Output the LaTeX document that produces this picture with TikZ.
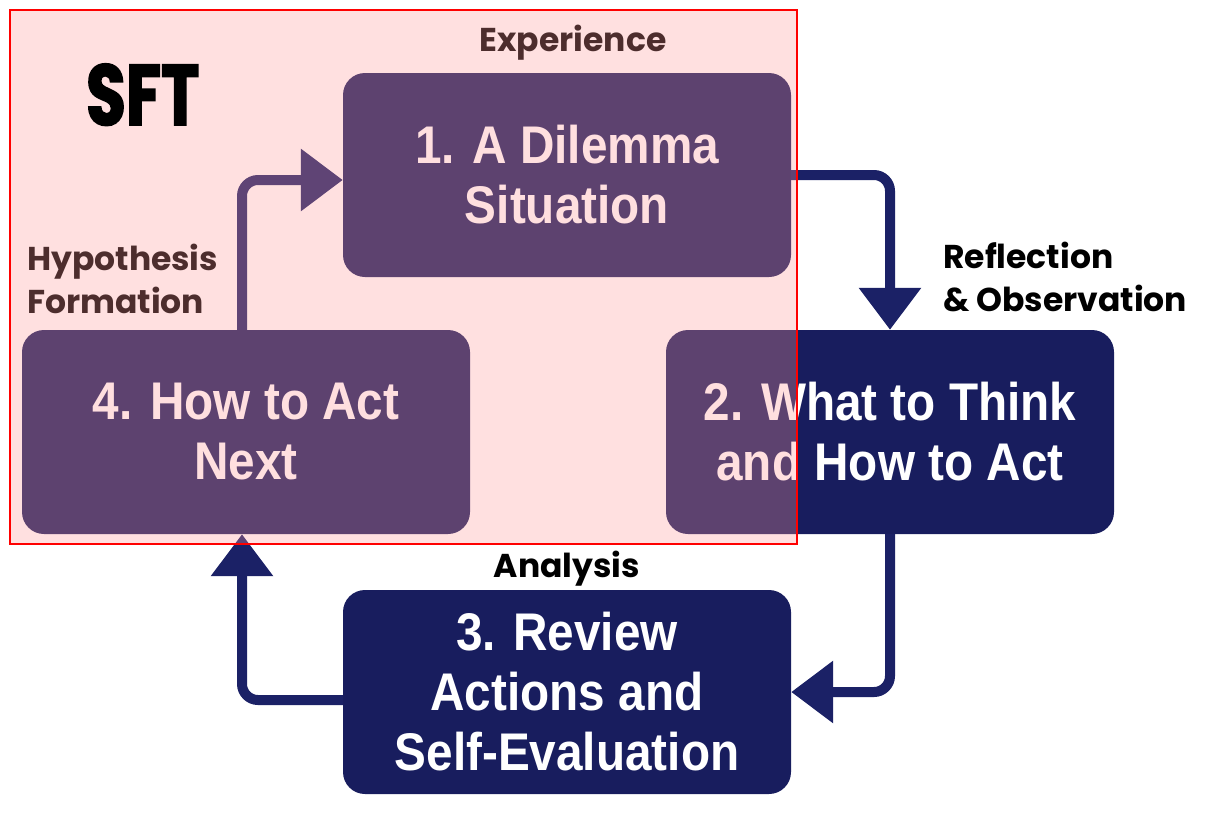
\documentclass[tikz,border=0pt]{standalone}
\usepackage{fontspec}
\setmainfont{Poppins}
\newfontfamily\stagefont[FakeStretch=0.9]{Liberation Sans}
\newfontfamily\sftfont[FakeStretch=0.75,FakeBold=2]{Poppins}
\usetikzlibrary{arrows.meta}

\definecolor{navy}{RGB}{24,29,94}
\definecolor{arrownavy}{RGB}{27,33,102}
\definecolor{veil}{RGB}{255,152,152}

\tikzset{
  stage/.style={fill=navy, text=white, rounded corners=22pt,
    minimum width=448pt, minimum height=204pt, inner sep=0pt,
    align=center, font=\stagefont\bfseries\fontsize{53}{60}\selectfont},
  tag/.style={inner sep=0pt, font=\bfseries\fontsize{33}{43}\selectfont},
  flow/.style={draw=arrownavy, line width=10pt, rounded corners=16pt,
    -{Triangle[length=42pt, width=60pt]}}
}

\begin{document}
\begin{tikzpicture}[x=1pt,y=-1pt]
  \useasboundingbox (0,0) rectangle (1205,820);

  \node[stage] (s1) at (567,175) {1. A Dilemma\\Situation};
  \node[stage] (s2) at (890,432) {2. What to Think\\and How to Act};
  \node[stage] (s3) at (567,692) {3. Review\\Actions and\\Self-Evaluation};
  \node[stage] (s4) at (246,432) {4. How to Act\\Next};

  \draw[flow] (s1) -| (s2);
  \draw[flow] (s2) |- (s3);
  \draw[flow] ([yshift=-8pt]s3.west) -| ([xshift=-4pt]s4.south);
  \draw[flow] ([xshift=-4pt]s4.north) |- ([yshift=-5pt]s1.west);

  \node[tag, anchor=base] (exp) at (573,51) {Experience};
  \node[tag, anchor=base west, align=left] (ref) at (943,311) {Reflection\\\& Observation};
  \node[tag, anchor=base] (ana) at (567,577) {Analysis};
  \node[tag, anchor=base west, align=left] (hyp) at (27,313) {Hypothesis\\Formation};

  % SFT region
  \draw[red, line width=1.5pt, fill=veil, fill opacity=0.3] (10,10) rectangle (797,544);
  \node[inner sep=0pt, anchor=base west, font=\sftfont\bfseries\fontsize{86}{86}\selectfont] (sft) at (86,125) {SFT};

\end{tikzpicture}
\end{document}
